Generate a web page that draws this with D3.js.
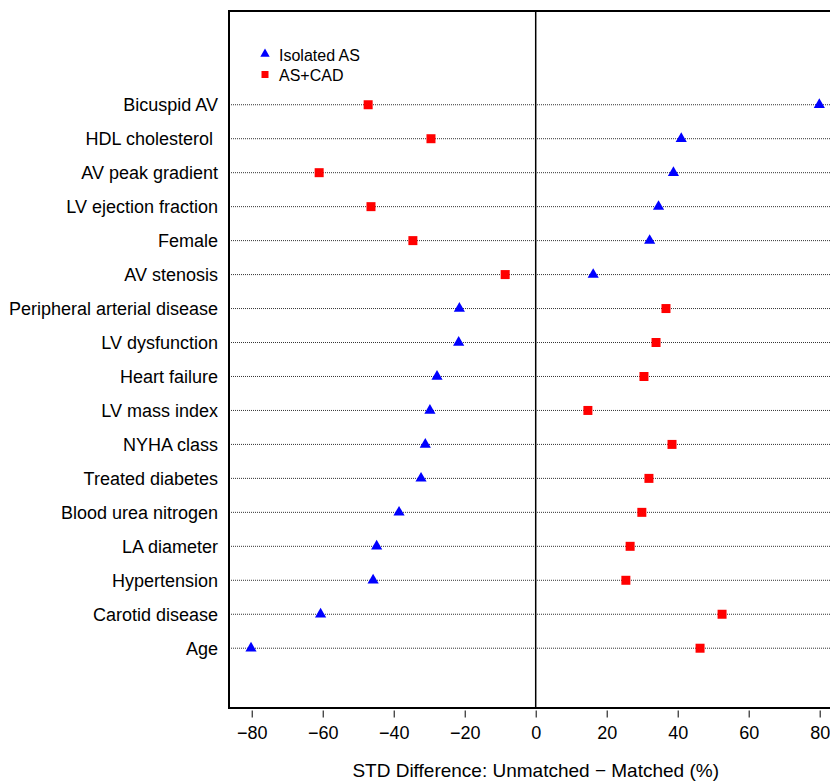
<!DOCTYPE html>
<html>
<head>
<meta charset="utf-8">
<script src="https://cdn.jsdelivr.net/npm/d3@7"></script>
<style>
    body { margin: 0; background: #fff; }
    text { font-family: "Liberation Sans", Arial, sans-serif; fill: #000; }
</style>
</head>
<body>
<svg id="dotplot" width="830" height="781"></svg>
<script>
// rows, top to bottom
var categories = ["Bicuspid AV", "HDL cholesterol ", "AV peak gradient", "LV ejection fraction",
    "Female", "AV stenosis", "Peripheral arterial disease", "LV dysfunction", "Heart failure",
    "LV mass index", "NYHA class", "Treated diabetes", "Blood urea nitrogen", "LA diameter",
    "Hypertension", "Carotid disease", "Age"];
var isolatedAS = [79.9, 41.0, 38.8, 34.6, 32.1, 16.2, -21.5, -21.7, -27.8, -29.8, -31.1,
    -32.3, -38.5, -44.8, -45.8, -60.6, -80.2];
var asCAD = [-47.2, -29.5, -61.0, -46.4, -34.6, -8.6, 36.7, 33.9, 30.5, 14.7, 38.4,
    31.9, 29.9, 26.6, 25.4, 52.5, 46.3];
var xTicks = [-80, -60, -40, -20, 0, 20, 40, 60, 80];
var seriesNames = ["Isolated AS", "AS+CAD"];

( function () {
    var svg = d3.select("#dotplot"),
        margin = {top: 11, left: 229},
        width = 613.4,      // right edge runs past the window, as in the original
        height = 697;

    var n = categories.length;
    var x = d3.scaleLinear().domain([-86.4, 86.4]).range([0, width]),
        y = d3.scaleLinear().domain([-0.76, 19.76]).range([height, 0]);

    // row position: first category on top
    function rowY(i) { return y(n - i); }

    var g = svg.append("g")
        .attr("transform", "translate(" + margin.left + "," + margin.top + ")");

    // dotted guide lines
    g.selectAll(".guide")
        .data(categories)
        .enter().append("line")
        .attr("class", "guide")
        .attr("x1", 0)
        .attr("x2", width)
        .attr("y1", function (d, i) { return rowY(i); })
        .attr("y2", function (d, i) { return rowY(i); })
        .attr("stroke", "#333")
        .attr("stroke-width", 1)
        .attr("stroke-dasharray", "1,1");

    // zero line
    g.append("line")
        .attr("x1", x(0)).attr("x2", x(0))
        .attr("y1", 0).attr("y2", height)
        .attr("stroke", "#000")
        .attr("stroke-width", 1.5);

    // row labels
    g.selectAll(".rowlab")
        .data(categories)
        .enter().append("text")
        .attr("class", "rowlab")
        .attr("x", -11)
        .attr("y", function (d, i) { return rowY(i); })
        .attr("dy", "0.35em")
        .attr("text-anchor", "end")
        .style("font-size", "18px")
        .style("white-space", "pre")
        .text(function (d) { return d; });

    // x axis
    var xAxis = g.append("g")
        .attr("transform", "translate(0," + (height + 2.5) + ")")
        .call(d3.axisBottom(x).tickValues(xTicks).tickSize(7).tickPadding(9));
    xAxis.select(".domain").remove();
    xAxis.selectAll("line").attr("stroke", "#000").attr("stroke-width", 1);
    xAxis.selectAll("text")
        .style("font-size", "18px")
        .style("font-family", "'Liberation Sans', Arial, sans-serif");

    // markers
    var tri = d3.symbol().type(d3.symbolTriangle).size(54),
        sq = d3.symbol().type(d3.symbolSquare).size(81);

    g.selectAll(".iso")
        .data(isolatedAS)
        .enter().append("path")
        .attr("class", "iso")
        .attr("d", tri)
        .attr("fill", "#0000ff")
        .attr("transform", function (d, i) { return "translate(" + x(d) + "," + rowY(i) + ")"; });

    g.selectAll(".cad")
        .data(asCAD)
        .enter().append("path")
        .attr("class", "cad")
        .attr("d", sq)
        .attr("fill", "#ff0000")
        .attr("transform", function (d, i) { return "translate(" + x(d) + "," + rowY(i) + ")"; });

    // frame
    g.append("rect")
        .attr("x", 0).attr("y", 0)
        .attr("width", width).attr("height", height)
        .attr("fill", "none")
        .attr("stroke", "#000")
        .attr("stroke-width", 2);

    // legend
    var legend = svg.append("g").attr("transform", "translate(265,54)");
    legend.append("path")
        .attr("d", d3.symbol().type(d3.symbolTriangle).size(38))
        .attr("fill", "#0000ff");
    legend.append("path")
        .attr("d", d3.symbol().type(d3.symbolSquare).size(49))
        .attr("transform", "translate(0,20.5)")
        .attr("fill", "#ff0000");
    legend.selectAll(".legtext")
        .data(seriesNames)
        .enter().append("text")
        .attr("class", "legtext")
        .attr("x", 14)
        .attr("y", function (d, i) { return i * 20.5 + 1; })
        .attr("dy", "0.35em")
        .style("font-size", "16px")
        .text(function (d) { return d; });

    // x axis title
    svg.append("text")
        .attr("x", margin.left + x(0))
        .attr("y", 777)
        .attr("text-anchor", "middle")
        .style("font-size", "19px")
        .text("STD Difference: Unmatched \u2212 Matched (%)");
})();
</script>
</body>
</html>
